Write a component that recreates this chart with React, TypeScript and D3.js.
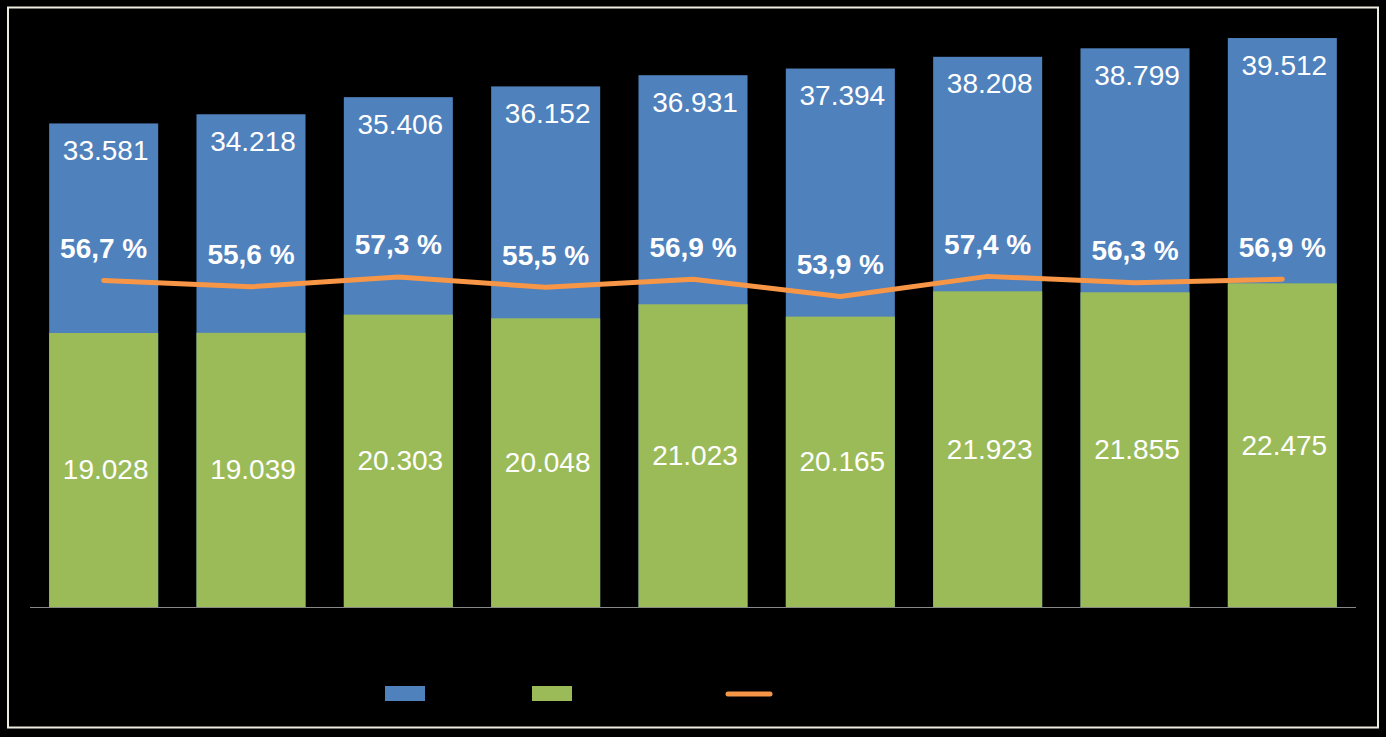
import React from "react";
import * as d3 from "d3";

const categories = ["1", "2", "3", "4", "5", "6", "7", "8", "9"];
const totalValues = [33581, 34218, 35406, 36152, 36931, 37394, 38208, 38799, 39512];
const greenValues = [19028, 19039, 20303, 20048, 21023, 20165, 21923, 21855, 22475];
const pctValues = [56.7, 55.6, 57.3, 55.5, 56.9, 53.9, 57.4, 56.3, 56.9];

const W = 1386;
const H = 737;
const BLUE = "#4f81bd";
const GREEN = "#9bbb59";
const ORANGE = "#f79646";
const FONT = "'Liberation Sans', Arial, sans-serif";

export default function App() {
  const x = d3.scaleBand<string>().domain(categories).range([30, 1356]).paddingInner(0.26).paddingOuter(0.13);
  const y = d3.scaleLinear().domain([0, 40000]).range([607, 31]);
  const y2 = d3.scaleLinear().domain([0, 100]).range([607, 31]);
  const fmtNum = (v: number) => d3.format(",")(v).replace(/,/g, ".");
  const fmtPct = (v: number) => v.toFixed(1).replace(".", ",") + " %";
  const cx = (c: string) => (x(c) as number) + x.bandwidth() / 2;

  const line = d3
    .line<number>()
    .x((_, i) => cx(categories[i]))
    .y((d) => y2(d));

  return (
    <div style={{ position: "absolute", left: 0, top: 0, width: W, height: H, background: "#000" }}>
      <svg width={W} height={H} style={{ display: "block" }}>
        <rect x={0} y={0} width={W} height={H} fill="#000" />
        <rect x={8} y={7.5} width={1370} height={720} fill="none" stroke="#eeece1" strokeWidth={2} />
        {categories.map((c, i) => (
          <g key={c}>
            <rect x={x(c)} y={y(totalValues[i])} width={x.bandwidth()} height={y(0) - y(totalValues[i])} fill={BLUE} />
            <rect x={x(c)} y={y(greenValues[i])} width={x.bandwidth()} height={y(0) - y(greenValues[i])} fill={GREEN} />
          </g>
        ))}
        <line x1={30} x2={1356} y1={607.5} y2={607.5} stroke="#888888" strokeWidth={1} />
        <path d={line(pctValues) || ""} fill="none" stroke={ORANGE} strokeWidth={5} strokeLinecap="round" strokeLinejoin="round" />
        {categories.map((c, i) => (
          <g key={"l" + c} fontFamily={FONT} fontSize={28} fill="#fff" textAnchor="middle">
            <text x={cx(c) + 2} y={y(totalValues[i]) + 27} dominantBaseline="central">
              {fmtNum(totalValues[i])}
            </text>
            <text x={cx(c) + 2} y={(y(greenValues[i]) + y(0)) / 2} dominantBaseline="central">
              {fmtNum(greenValues[i])}
            </text>
            <text x={cx(c)} y={y2(pctValues[i]) - 32} dominantBaseline="central" fontWeight="bold">
              {fmtPct(pctValues[i])}
            </text>
          </g>
        ))}
        <rect x={385} y={686} width={40} height={15} fill={BLUE} />
        <rect x={532} y={686} width={40} height={15} fill={GREEN} />
        <line x1={728} x2={770} y1={694} y2={694} stroke={ORANGE} strokeWidth={5} strokeLinecap="round" />
      </svg>
    </div>
  );
}
